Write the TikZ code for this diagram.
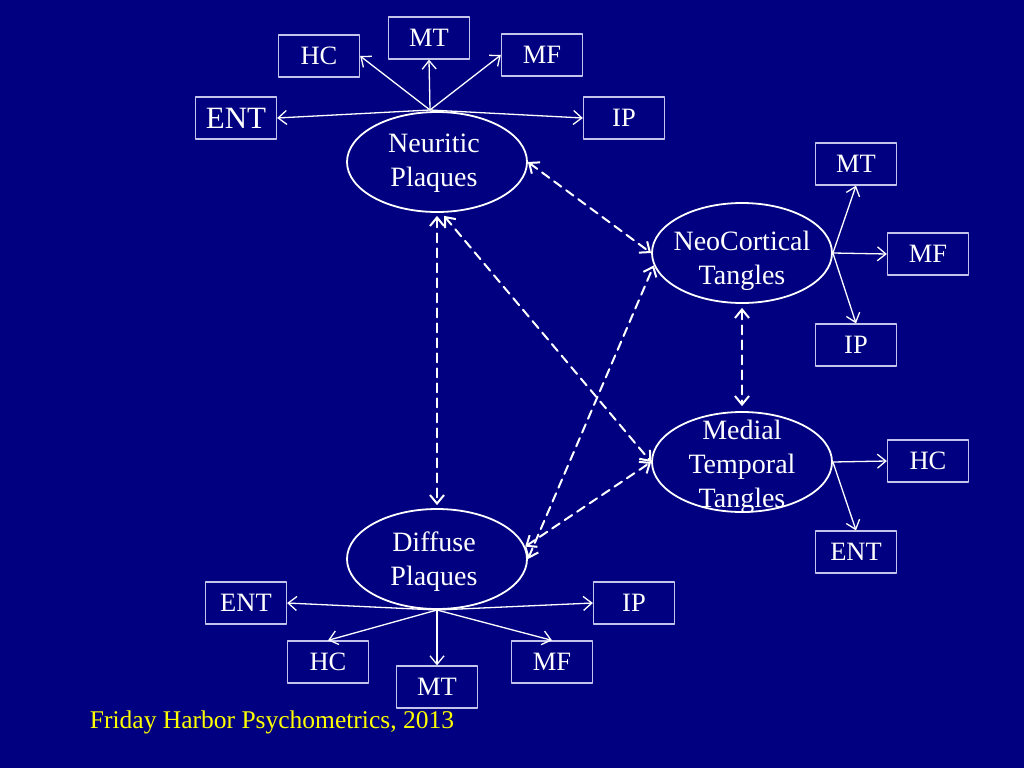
\documentclass[tikz,border=0pt]{standalone}
\usepackage{fontspec}
\setmainfont{Liberation Serif}
\usetikzlibrary{arrows.meta,shapes.geometric}
\definecolor{slidebg}{RGB}{0,0,128}
\definecolor{boxline}{RGB}{195,195,235}
\definecolor{credit}{RGB}{255,255,0}

\begin{document}
\begin{tikzpicture}[x=1pt,y=-1pt,line cap=round,line join=round,>={Straight Barb[length=8.5pt,width=14pt]},
  latent/.style={draw=white,line width=1.8pt,ellipse,minimum width=180pt,minimum height=100pt,inner sep=0pt},
  lattext/.style={text=white,align=center,inner sep=0pt,font=\fontsize{28}{34}\selectfont},
  indic/.style={draw=boxline,line width=1.3pt,minimum width=81pt,minimum height=42pt,inner sep=0pt,text=white,font=\fontsize{26.5}{30}\selectfont},
  load/.style={->,white,line width=1.3pt},
  corr/.style={<->,white,line width=2pt,dash pattern=on 9pt off 6pt}]
\fill[slidebg] (0,0) rectangle (1024,768);
% latent factors
\node[latent] (np) at (437,162) {};
\node[lattext] (np-txt) at (434,163.5) {Neuritic\\Plaques};
\node[latent] (dp) at (437,559) {};
\node[lattext] (dp-txt) at (434,562) {Diffuse\\Plaques};
\node[latent] (nct) at (742,253) {};
\node[lattext] (nct-txt) at (742,261) {NeoCortical\\Tangles};
\node[latent] (mtt) at (742,462) {};
\node[lattext] (mtt-txt) at (742,466.5) {Medial\\Temporal\\Tangles};
% indicators
\node[indic,font=\fontsize{31}{34}\selectfont] (np-ent) at (236,118) {ENT};
\node[indic] (np-hc) at (319,56) {HC};
\node[indic] (np-mt) at (429,38) {MT};
\node[indic] (np-mf) at (542,55) {MF};
\node[indic] (np-ip) at (624,118) {IP};
\node[indic] (dp-ent) at (246,603) {ENT};
\node[indic] (dp-hc) at (328,662) {HC};
\node[indic] (dp-mt) at (437,687) {MT};
\node[indic] (dp-mf) at (552,662) {MF};
\node[indic] (dp-ip) at (634,603) {IP};
\node[indic] (nct-mt) at (856,164) {MT};
\node[indic] (nct-mf) at (928,254) {MF};
\node[indic] (nct-ip) at (856,345) {IP};
\node[indic] (mtt-hc) at (928,461) {HC};
\node[indic] (mtt-ent) at (856,552) {ENT};
% loadings
\coordinate (np-fan) at (430,110);
\coordinate (dp-fan) at (437,610);
\draw[load] (np-fan) -- (np-ent.east);
\draw[load] (np-fan) -- (np-hc.east);
\draw[load] (np-fan) -- (np-mt.south);
\draw[load] (np-fan) -- (np-mf.west);
\draw[load] (np-fan) -- (np-ip.west);
\draw[load] (dp-fan) -- (dp-ent.east);
\draw[load] (dp-fan) -- (dp-hc.north);
\draw[load] (dp-fan) -- (dp-mt.north);
\draw[load] (dp-fan) -- (dp-mf.north);
\draw[load] (dp-fan) -- (dp-ip.west);
\draw[load] (nct.east) -- (nct-mt.south);
\draw[load] (nct.east) -- (nct-mf.west);
\draw[load] (nct.east) -- (nct-ip.north);
\draw[load] (mtt.east) -- (mtt-hc.west);
\draw[load] (mtt.east) -- (mtt-ent.north);
% correlations
\draw[corr,shorten <=3pt,shorten >=3pt] (np.south) -- (dp.north);
\draw[corr] (np.east) -- (nct.west);
\draw[corr,shorten <=4pt] (np.-85) -- (mtt.west);
\draw[corr] (dp.east) -- (nct.188);
\draw[corr] (dp.8) -- (mtt.west);
\draw[corr,shorten <=4pt,shorten >=5pt] (nct.south) -- (mtt.north);
\node[text=credit,inner sep=0pt,font=\fontsize{25.5}{28}\selectfont] (credit) at (272,722) {Friday Harbor Psychometrics, 2013};
\end{tikzpicture}
\end{document}
